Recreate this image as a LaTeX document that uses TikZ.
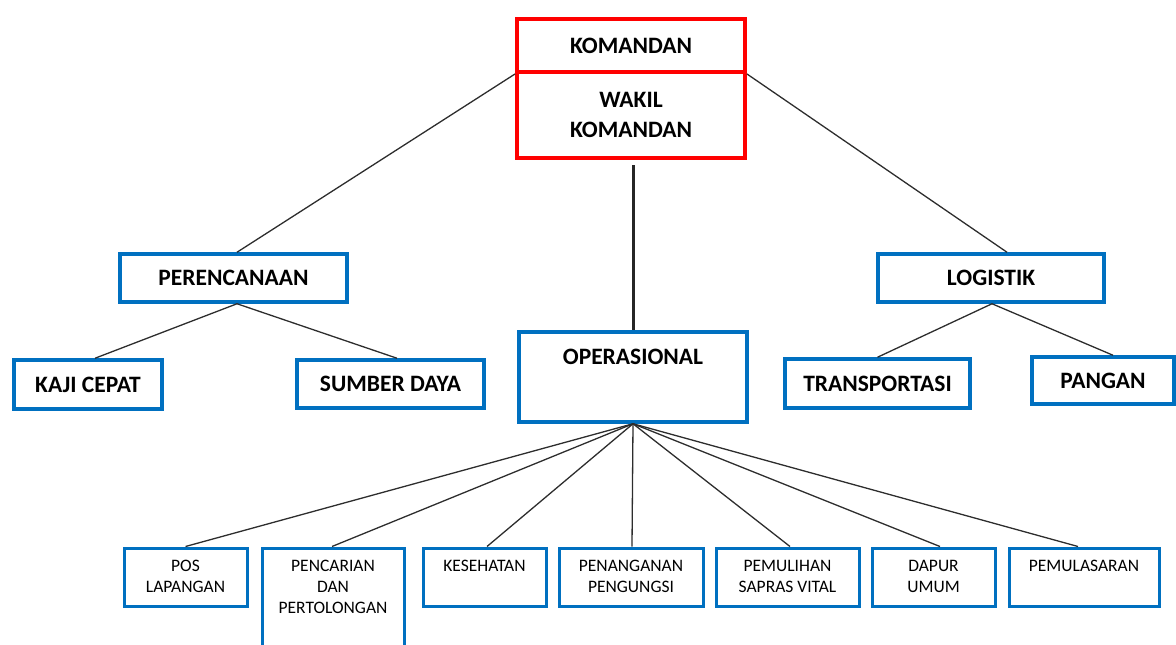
\documentclass[tikz,border=0pt]{standalone}
\usepackage{fontspec}
\setmainfont{Carlito}
\definecolor{boxblue}{RGB}{0,112,192}
\definecolor{linkgray}{RGB}{45,45,45}
\tikzset{
  redbox/.style={draw=red, line width=4pt, inner sep=0pt, align=center},
  bluebox/.style={draw=boxblue, line width=3.5pt, inner sep=0pt, align=center},
  smallbox/.style={draw=boxblue, line width=3pt, inner sep=0pt, minimum height=58pt},
  bigtxt/.style={font=\bfseries\fontsize{23.5}{30}\selectfont},
  smalltxt/.style={font=\fontsize{17.5}{21}\selectfont, align=center, anchor=north, inner sep=0pt},
  link/.style={draw=linkgray, line width=1.3pt},
  trunk/.style={draw=black!85, line width=3pt}
}
\begin{document}
\begin{tikzpicture}[x=1pt,y=-1pt]
\useasboundingbox (0,0) rectangle (1176,645);
% top boxes
\node[redbox, bigtxt, minimum width=228pt, minimum height=53pt] (kom) at (631,45.5) {KOMANDAN};
\node[redbox, bigtxt, minimum width=228pt, minimum height=86pt] (wakil) at (631,115) {WAKIL\\KOMANDAN};
% second level
\node[bluebox, bigtxt, minimum width=227pt, minimum height=48pt] (pere) at (233.5,278) {PERENCANAAN};
\node[bluebox, bigtxt, minimum width=226pt, minimum height=48pt] (logi) at (991,278) {LOGISTIK};
\node[bluebox, minimum width=228pt, minimum height=90pt] (ops) at (633,377) {};
\node[bigtxt, inner sep=0pt] (opsT) at (633,357) {OPERASIONAL};
% third level
\node[bluebox, bigtxt, minimum width=148pt, minimum height=49pt] (kaji) at (88,384.5) {KAJI CEPAT};
\node[bluebox, bigtxt, minimum width=187pt, minimum height=48pt] (sumber) at (390.5,384) {SUMBER DAYA};
\node[bluebox, bigtxt, minimum width=185pt, minimum height=49pt] (trans) at (877.5,383.5) {TRANSPORTASI};
\node[bluebox, bigtxt, minimum width=142pt, minimum height=47pt] (pangan) at (1103,380.5) {PANGAN};
% bottom boxes
\node[smallbox, minimum width=123pt] (pos) at (185.5,577) {};
\node[smallbox, minimum width=142pt, minimum height=132pt] (cari) at (333,614) {};
\node[smallbox, minimum width=123pt] (sehat) at (484.5,577) {};
\node[smallbox, minimum width=144pt] (ungsi) at (631,577) {};
\node[smallbox, minimum width=143pt] (pulih) at (787.5,577) {};
\node[smallbox, minimum width=123pt] (dapur) at (933.5,577) {};
\node[smallbox, minimum width=150pt] (lasar) at (1084,577) {};
\node[smalltxt] (posT) at (185.5,560) {POS\\LAPANGAN};
\node[smalltxt] (cariT) at (333,560) {PENCARIAN\\DAN\\PERTOLONGAN};
\node[smalltxt] (sehatT) at (484.5,560) {KESEHATAN};
\node[smalltxt] (ungsiT) at (631,560) {PENANGANAN\\PENGUNGSI};
\node[smalltxt] (pulihT) at (787.5,560) {PEMULIHAN\\SAPRAS VITAL};
\node[smalltxt] (dapurT) at (933.5,560) {DAPUR\\UMUM};
\node[smalltxt] (lasarT) at (1084,560) {PEMULASARAN};
% connectors
\draw[link] (kom.south west) -- ([xshift=3.5pt]pere.north);
\draw[link] (kom.south east) -- ([xshift=16pt]logi.north);
\draw[trunk, shorten <=5pt] (wakil.south -| ops.north) -- (ops.north);
\draw[link] ([xshift=3.5pt]pere.south) -- ([xshift=7pt]kaji.north);
\draw[link] ([xshift=3.5pt]pere.south) -- ([xshift=6.5pt]sumber.north);
\draw[link] ([xshift=1pt]logi.south) -- (trans.north);
\draw[link] ([xshift=1pt]logi.south) -- ([xshift=10pt]pangan.north);
\draw[link] (ops.south) -- (pos.north);
\draw[link] (ops.south) -- ([xshift=-1pt]cari.north);
\draw[link] (ops.south) -- ([xshift=2.5pt]sehat.north);
\draw[link] (ops.south) -- ([xshift=1pt]ungsi.north);
\draw[link] (ops.south) -- ([xshift=2.5pt]pulih.north);
\draw[link] (ops.south) -- ([xshift=6.5pt]dapur.north);
\draw[link] (ops.south) -- ([xshift=-6pt]lasar.north);
\end{tikzpicture}
\end{document}
